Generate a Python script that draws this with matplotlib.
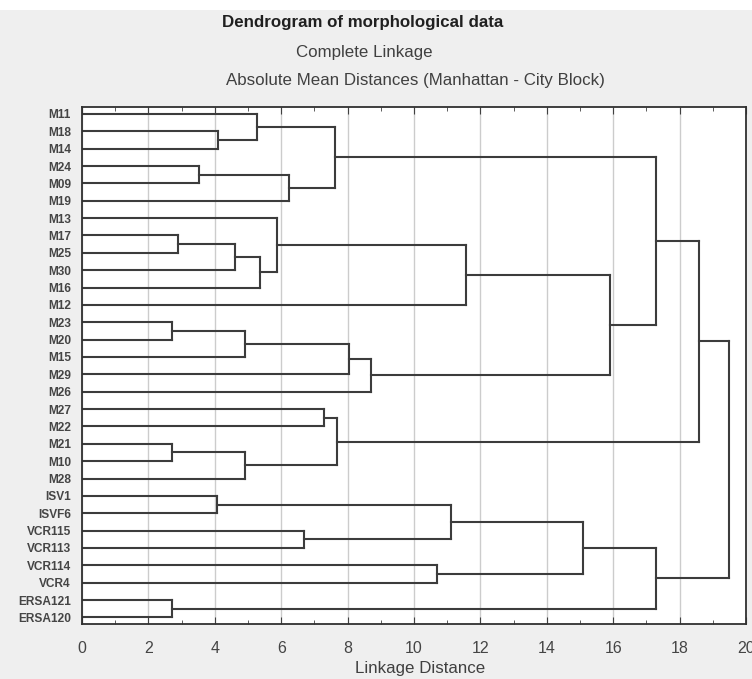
import matplotlib.pyplot as plt
from matplotlib.ticker import MultipleLocator
from matplotlib.patches import Rectangle

plt.rcParams['font.family'] = ['Liberation Sans', 'DejaVu Sans']

# leaves, listed top to bottom in dendrogram order
leaf_labels = ['M11', 'M18', 'M14', 'M24', 'M09', 'M19', 'M13', 'M17', 'M25', 'M30',
               'M16', 'M12', 'M23', 'M20', 'M15', 'M29', 'M26', 'M27', 'M22', 'M21',
               'M10', 'M28', 'ISV1', 'ISVF6', 'VCR115', 'VCR113', 'VCR114', 'VCR4',
               'ERSA121', 'ERSA120']

# linkage steps: ids < 30 are leaves, id 30 + k is the cluster formed at step k
merge_left = [1, 0, 3, 32, 31,
              7, 35, 36, 6, 38,
              12, 40, 41, 42, 39, 34,
              17, 19, 47, 46, 45,
              22, 24, 51, 26, 53, 28, 55, 50]
merge_right = [2, 30, 4, 5, 33,
               8, 9, 10, 37, 11,
               13, 14, 15, 16, 43, 44,
               18, 20, 21, 48, 49,
               23, 25, 52, 27, 54, 29, 56, 57]
merge_height = [4.10, 5.26, 3.53, 6.24, 7.62,
                2.90, 4.62, 5.35, 5.86, 11.58,
                2.72, 4.92, 8.05, 8.70, 15.90, 17.29,
                7.28, 2.72, 4.92, 7.67, 18.58,
                4.06, 6.69, 11.12, 10.70, 15.09, 2.71, 17.29, 19.48]

n = len(leaf_labels)
line_col = '#3c3c3c'

fig = plt.figure(figsize=(7.52, 6.79), dpi=100, facecolor='#efefef')
fig.patches.append(Rectangle((0, 1 - 10 / 679), 1, 10 / 679, transform=fig.transFigure,
                             facecolor='white', edgecolor='none', zorder=0))
ax = fig.add_axes([82 / 752, 1 - 624 / 679, (746 - 82) / 752, (624 - 107) / 679])
ax.set_facecolor('white')

# walk the linkage: each cluster sits halfway between its two children
ypos = {i: float(i) for i in range(n)}
hgt = {i: 0.0 for i in range(n)}
for k, (a, b, h) in enumerate(zip(merge_left, merge_right, merge_height)):
    cid = n + k
    ax.plot([hgt[a], h], [ypos[a], ypos[a]], color=line_col, lw=1.5, solid_capstyle='projecting')
    ax.plot([hgt[b], h], [ypos[b], ypos[b]], color=line_col, lw=1.5, solid_capstyle='projecting')
    ax.plot([h, h], [ypos[a], ypos[b]], color=line_col, lw=1.5, solid_capstyle='projecting')
    ypos[cid] = (ypos[a] + ypos[b]) / 2
    hgt[cid] = h

ax.set_xlim(0, 20)
ax.set_ylim(n - 0.62, -0.4)
ax.xaxis.set_major_locator(MultipleLocator(2))
ax.xaxis.set_minor_locator(MultipleLocator(1))
ax.grid(axis='x', which='major', color='#cccccc', lw=1.0)
ax.set_axisbelow(True)

ax.set_yticks(range(n))
ax.set_yticklabels(leaf_labels, fontsize=8.6, fontweight='bold', color='#454545')
ax.tick_params(axis='y', length=0, pad=8)
ax.tick_params(axis='x', which='both', direction='in', top=True, color='#404040')
ax.tick_params(axis='x', which='major', length=5, labelsize=11.5, labelcolor='#454545', pad=12)
ax.tick_params(axis='x', which='minor', length=3)
for s in ax.spines.values():
    s.set_color('#303030')
    s.set_linewidth(1.3)

ax.set_xlabel('Linkage Distance', fontsize=12.2, color='#404040')
ax.xaxis.set_label_coords((420 - 82) / 664, -(668 - 624) / 517)
ax.xaxis.label.set_va('center')

fig.text(363 / 752, 1 - 23 / 679, 'Dendrogram of morphological data', ha='center', va='center',
         fontsize=12.2, fontweight='bold', color='#202020')
fig.text(364.5 / 752, 1 - 53 / 679, 'Complete Linkage', ha='center', va='center',
         fontsize=12.2, color='#404040')
fig.text(415 / 752, 1 - 80 / 679, 'Absolute Mean Distances (Manhattan - City Block)', ha='center',
         va='center', fontsize=12.2, color='#404040')

fig.savefig('out.png', dpi=100, facecolor=fig.get_facecolor())
